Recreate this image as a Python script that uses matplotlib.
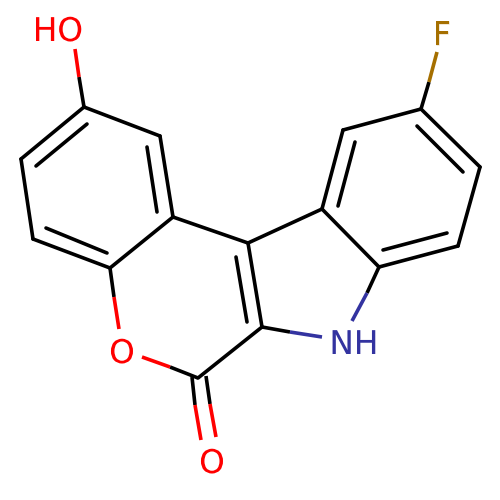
import matplotlib
matplotlib.use("Agg")
import matplotlib.pyplot as plt
import matplotlib.patheffects as pe

RED = "#ff0000"
BROWN = "#a56f00"
BLUE = "#3333a0"

# carbon skeleton, pixel positions
atoms = {
    "a": (84, 107), "b": (160, 136), "c": (173, 217), "d": (110, 268),
    "e": (33, 239), "f": (21, 159), "g": (248, 243), "h": (262, 327),
    "i": (198, 378), "j": (322, 209), "k": (343, 130), "l": (421, 109),
    "m": (480, 167), "n": (458, 246), "o": (379, 267),
}
bonds = ["ab", "bc", "cd", "de", "ef", "fa", "cg", "gh", "hi", "gj",
         "jk", "kl", "lm", "mn", "no", "oj"]

# inner lines of the double bonds
inner_lines = [
    ((87, 124), (36, 166)),
    ((147, 147), (157, 212)),
    ((46, 228), (107, 253)),
    ((236, 257), (247, 322)),
    ((355, 142), (338, 206)),
    ((417, 126), (463, 172)),
    ((447, 233), (383, 250)),
]

# bonds to hetero atoms: start, colour change, end, colour
hetero_bonds = [
    ((84, 107), (79, 77), (75, 49), RED),
    ((110, 268), (114, 297), (119, 329), RED),
    ((198, 378), (170, 367), (142, 357), RED),
    ((192, 377), (195, 405), (201, 440), RED),
    ((206, 376), (210, 404), (216, 437), RED),
    ((421, 109), (429, 82), (437, 52), BROWN),
    ((262, 327), (290, 332), (322, 337), BLUE),
    ((379, 267), (367, 293), (352, 321), BLUE),
]

labels = [
    ("HO", 58, 28, RED),
    ("O", 122, 350, RED),
    ("O", 212, 460, RED),
    ("F", 442, 32, BROWN),
    ("NH", 354, 341, BLUE),
]

fig = plt.figure(figsize=(5, 5), dpi=100)
ax = fig.add_axes([0, 0, 1, 1])
ax.set_xlim(0, 500)
ax.set_ylim(500, 0)
ax.axis("off")

lw = 2.6
for b in bonds:
    p, q = atoms[b[0]], atoms[b[1]]
    ax.plot([p[0], q[0]], [p[1], q[1]], color="black", lw=lw, solid_capstyle="round")

for p, q in inner_lines:
    ax.plot([p[0], q[0]], [p[1], q[1]], color="black", lw=lw, solid_capstyle="round")

for p, mid, q, col in hetero_bonds:
    ax.plot([p[0], mid[0]], [p[1], mid[1]], color="black", lw=lw, solid_capstyle="butt")
    ax.plot([mid[0], q[0]], [mid[1], q[1]], color=col, lw=lw, solid_capstyle="butt")

# the labels in the reference are drawn a bit thinner than plain DejaVu
for txt, x, y, col in labels:
    t = ax.text(x, y, txt, color=col, fontsize=23.5, ha="center", va="center_baseline",
                family="DejaVu Sans")
    t.set_path_effects([pe.withStroke(linewidth=0.5, foreground="white")])

fig.savefig("out.png", dpi=100)
